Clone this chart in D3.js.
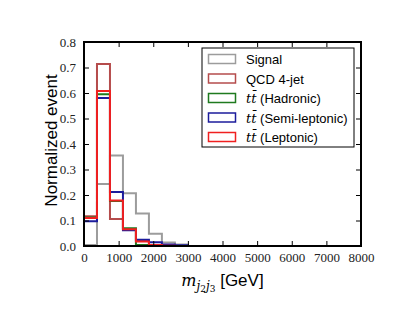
<!DOCTYPE html>
<html>
<head>
<meta charset="utf-8">
<script src="https://cdn.jsdelivr.net/npm/d3@7"></script>
<style>
  body { margin: 0; background: #fff; }
  .tick text { font-family: "Liberation Serif", "Times New Roman", serif; font-size: 13px; fill: #222; }
  .lbl { font-family: "Liberation Sans", Arial, sans-serif; font-size: 17px; fill: #000; }
  .leg { font-family: "Liberation Sans", Arial, sans-serif; font-size: 13px; fill: #000; }
</style>
</head>
<body>
<div id="chart"></div>
<script>
// histogram values per bin (bin width 375 GeV)
const binEdges = [0, 375, 750, 1125, 1500, 1875, 2250, 2625, 3000];
const signal   = [0.004, 0.243, 0.355, 0.207, 0.127, 0.048, 0.014, 0.006];
const qcd      = [0.117, 0.714, 0.106, 0.065, 0.020, 0.003, 0.001, 0.000];
const hadronic = [0.112, 0.595, 0.176, 0.070, 0.004, 0.001, 0.000, 0.000];
const semilep  = [0.097, 0.580, 0.212, 0.062, 0.025, 0.015, 0.006, 0.003];
const leptonic = [0.110, 0.608, 0.178, 0.066, 0.018, 0.004, 0.001, 0.000];

const seriesNames = ["Signal", "QCD 4-jet", "Hadronic", "Semi-leptonic", "Leptonic"];
const seriesColors = ["#9c9c9c", "#b54c4c", "#1f7a1f", "#1c1c9c", "#f02020"];
const xTicks = [0, 1000, 2000, 3000, 4000, 5000, 6000, 7000, 8000];
const yTicks = [0.0, 0.1, 0.2, 0.3, 0.4, 0.5, 0.6, 0.7, 0.8];

const width = 411, height = 327;
const margin = { top: 42, right: 50, bottom: 81, left: 84 };
const w = width - margin.left - margin.right;
const h = height - margin.top - margin.bottom;

const svg = d3.select("#chart").append("svg")
    .attr("width", width)
    .attr("height", height);

const g = svg.append("g")
    .attr("transform", "translate(" + margin.left + "," + margin.top + ")");

const x = d3.scaleLinear().domain([0, 8000]).range([0, w]);
const y = d3.scaleLinear().domain([0, 0.8]).range([h, 0]);

// clip so the thick lines stay inside the frame
g.append("clipPath").attr("id", "clip")
    .append("rect").attr("width", w).attr("height", h);

// step outline like matplotlib histtype='step'
function stepPoints(vals) {
    let pts = [[x(binEdges[0]), y(0)]];
    vals.forEach((v, i) => {
        pts.push([x(binEdges[i]), y(v)]);
        pts.push([x(binEdges[i + 1]), y(v)]);
    });
    pts.push([x(binEdges[binEdges.length - 1]), y(0)]);
    pts.push([x(8000), y(0)]);
    return pts;
}

const allSeries = [signal, qcd, hadronic, semilep, leptonic];
const line = d3.line();

g.append("g").attr("clip-path", "url(#clip)")
    .selectAll("path")
    .data(allSeries)
    .enter().append("path")
    .attr("d", d => line(stepPoints(d)))
    .attr("fill", "none")
    .attr("stroke", (d, i) => seriesColors[i])
    .attr("stroke-width", 2)
    .attr("stroke-linejoin", "miter");

// axes with inward ticks on all four sides
g.append("g").attr("transform", "translate(0," + h + ")")
    .call(d3.axisBottom(x).tickValues(xTicks).tickSize(-5).tickPadding(7).tickFormat(d3.format("d")));
g.append("g")
    .call(d3.axisLeft(y).tickValues(yTicks).tickSize(-5).tickPadding(8).tickFormat(d3.format(".1f")));
g.append("g").call(d3.axisTop(x).tickValues(xTicks).tickSize(-5).tickFormat(""));
g.append("g").attr("transform", "translate(" + w + ",0)")
    .call(d3.axisRight(y).tickValues(yTicks).tickSize(-5).tickFormat(""));

g.selectAll(".domain").remove();
g.selectAll(".tick line").attr("stroke", "#000").attr("stroke-width", 1);

g.append("rect")
    .attr("width", w).attr("height", h)
    .attr("fill", "none").attr("stroke", "#000").attr("stroke-width", 2);

// axis labels
svg.append("text").attr("class", "lbl")
    .attr("transform", "translate(57,140.5) rotate(-90)")
    .attr("text-anchor", "middle")
    .text("Normalized event");

const xl = svg.append("text").attr("class", "lbl")
    .attr("x", margin.left + w / 2).attr("y", 286)
    .attr("text-anchor", "middle");
xl.append("tspan").attr("font-family", "DejaVu Serif, serif").attr("font-style", "italic").attr("font-size", 16).text("m");
xl.append("tspan").attr("font-family", "DejaVu Serif, serif").attr("font-style", "italic").attr("font-size", 12).attr("dy", 4).text("j");
xl.append("tspan").attr("font-family", "DejaVu Serif, serif").attr("font-size", 9).attr("dy", 2).text("2");
xl.append("tspan").attr("font-family", "DejaVu Serif, serif").attr("font-style", "italic").attr("font-size", 12).attr("dy", -2).text("j");
xl.append("tspan").attr("font-family", "DejaVu Serif, serif").attr("font-size", 9).attr("dy", 2).text("3");
xl.append("tspan").attr("dy", -6).text(" [GeV]");

// legend
const legX = 202, legY = 48;
const leg = svg.append("g").attr("transform", "translate(" + legX + "," + legY + ")");
leg.append("rect")
    .attr("width", 152).attr("height", 99)
    .attr("fill", "#fff").attr("stroke", "#000").attr("stroke-width", 1);

const rows = leg.selectAll(".row").data(seriesNames).enter().append("g")
    .attr("transform", (d, i) => "translate(0," + (11 + i * 19.5) + ")");
rows.append("rect")
    .attr("x", 6.5).attr("y", -4.5).attr("width", 27).attr("height", 9)
    .attr("fill", "none").attr("stroke", (d, i) => seriesColors[i]).attr("stroke-width", 1.5);
rows.each(function (d, i) {
    const t = d3.select(this).append("text").attr("class", "leg")
        .attr("x", 44).attr("y", 5);
    if (i < 2) {
        t.text(d);
    } else {
        t.append("tspan").attr("font-family", "DejaVu Serif, serif").attr("font-style", "italic").text("t");
        t.append("tspan").attr("font-family", "DejaVu Serif, serif").attr("font-style", "italic").text("t\u0304");
        t.append("tspan").text(" (" + d + ")");
    }
});
</script>
</body>
</html>
